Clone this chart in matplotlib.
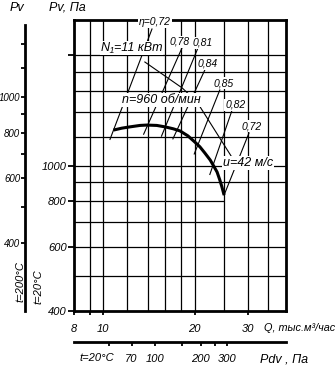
import numpy as np
import matplotlib
matplotlib.use('Agg')
import matplotlib.pyplot as plt
from matplotlib.ticker import NullLocator

plt.rcParams['font.family'] = ['Liberation Sans Narrow', 'Liberation Sans', 'DejaVu Sans']
plt.rcParams['font.style'] = 'italic'

# fan characteristic, n = 960 rpm, t = 20 C  (Q in 1000 m3/h, Pv in Pa)
flow = [10.8, 11.5, 12.2, 13.2, 13.9, 15.0, 16.0, 17.0, 17.9, 19.0,
        20.0, 20.8, 21.6, 22.5, 23.0, 23.7, 24.2, 24.6, 25.0]
pv = [1250, 1265, 1275, 1287, 1290, 1287, 1275, 1260, 1243, 1205,
      1160, 1125, 1082, 1035, 1003, 960, 913, 873, 830]

# efficiency marks on the curve
eta_text = ['η=0,72', '0,78', '0,81', '0,84', '0,85', '0,82', '0,72']
eta_flow = [10.8, 14.0, 16.0, 17.5, 20.5, 23.0, 25.0]
eta_pv = [1250, 1290, 1275, 1252, 1140, 1003, 830]

# grid
q_grid = [9, 10, 12, 14, 16, 18, 20, 25, 30, 35]
p_grid = [500, 600, 700, 900, 1000, 1200, 1400, 1600, 1800, 2000]

# axis ticks
q_ticks = [8, 9, 10, 20, 30]
q_labels = ['8', '', '10', '20', '30']
p_ticks = [400, 600, 800, 1000, 2000]
p_labels = ['400', '600', '800', '1000', '']

# Pv scale at t = 200 C
hot_ticks = [400, 500, 600, 700, 800, 900, 1000, 1200, 1400]
hot_labels = ['400', '', '600', '', '800', '', '1000', '', '']
hot_ratio = 0.65

# dynamic pressure scale, t = 20 C
pdv_ticks = [50, 70, 100, 150, 200, 250, 300]
pdv_labels = ['', '70', '100', '', '200', '', '300']
q_at_pdv100 = 14.8

fig = plt.figure(figsize=(3.36, 3.65), dpi=100)
W, H = 336.0, 365.0
ax = fig.add_axes([74 / W, 1 - 311 / H, 212 / W, 291 / H])
ax.set_xscale('log')
ax.set_yscale('log')
ax.set_xlim(8, 40)
ax.set_ylim(400, 2500)

for q in q_grid:
    ax.axvline(q, color='k', lw=0.9, zorder=1)
for p in p_grid:
    ax.axhline(p, color='k', lw=0.9, zorder=1)
ax.hlines(800, 8, 25, color='k', lw=0.9, zorder=1)

for s in ax.spines.values():
    s.set_linewidth(2.0)

ax.set_xticks(q_ticks, q_labels)
ax.set_yticks(p_ticks, p_labels)
ax.xaxis.set_minor_locator(NullLocator())
ax.yaxis.set_minor_locator(NullLocator())
ax.tick_params(axis='x', direction='out', length=3, width=1.3, pad=6, labelsize=8)
ax.tick_params(axis='y', direction='out', length=4.3, width=1.3, pad=1, labelsize=8)

ax.plot(flow, pv, color='k', lw=2.2, solid_capstyle='butt', zorder=5)

# efficiency leaders: from under the label through the curve point
label_pos = [(14.8, 2470), (17.9, 2177), (21.3, 2163), (22.1, 1895),
             (25.0, 1681), (27.2, 1464), (30.9, 1282)]
leader_top = [(14.46, 2362), (18.16, 2096), (20.5, 2096), (21.6, 1825),
              (24.2, 1609), (26.5, 1409), (30.2, 1227)]
tails = [10, 10, 10, 10, 10, 10, 0]

box = dict(facecolor='white', edgecolor='none', pad=0.6)


def leader(start, hit, tail):
    p0 = ax.transData.transform(start)
    p1 = ax.transData.transform(hit)
    d = (p1 - p0) / np.hypot(*(p1 - p0))
    end = ax.transData.inverted().transform(p1 + d * tail)
    ax.plot([start[0], end[0]], [start[1], end[1]], color='k', lw=0.8, zorder=4)


for i in range(len(eta_text)):
    leader(leader_top[i], (eta_flow[i], eta_pv[i]), tails[i])
    ax.text(label_pos[i][0], label_pos[i][1], eta_text[i], fontsize=7.5,
            ha='center', va='center', bbox=box, zorder=7)

# N1 / n / u leader line
ax.plot([13.7, 18.2, 20.35, 26.4], [1919, 1629, 1492, 1060], color='k', lw=0.8, zorder=4)

ax.text(12.4, 2096, 'N₁=11 кВт', fontsize=9, ha='center', va='center', bbox=box, zorder=7)
ax.text(15.5, 1511, 'n=960 об/мин', fontsize=9, ha='center', va='center', bbox=box, zorder=7)
ax.text(30.0, 1016, 'u=42 м/с', fontsize=9, ha='center', va='center', bbox=box, zorder=7)

# Pv at 200 C, left scale
hot = ax.secondary_yaxis((25 - 74) / 212.0,
                         functions=(lambda p: p * hot_ratio, lambda p: p / hot_ratio))
hot.set_yticks(hot_ticks, hot_labels)
hot.tick_params(which='major', direction='out', length=3, width=1.3, pad=0.5, labelsize=7)
hot.tick_params(which='minor', length=0, labelleft=False)
hot.spines['left'].set_linewidth(2.0)
hot.spines['left'].set_bounds(400 * hot_ratio, 2420 * hot_ratio)

# dynamic pressure scale under the flow axis
pdv = ax.secondary_xaxis((311 - 342) / 291.0,
                         functions=(lambda q: 100 * (np.asarray(q) / q_at_pdv100) ** 2,
                                    lambda p: q_at_pdv100 * np.sqrt(np.clip(p, 1e-9, None) / 100)))
pdv.set_xticks(pdv_ticks, pdv_labels)
pdv.tick_params(which='major', direction='out', length=3, width=1.3, pad=6, labelsize=8)
pdv.tick_params(which='minor', length=0, labelbottom=False)
pdv.spines['bottom'].set_linewidth(2.0)

fig.text(17 / W, 1 - 8 / H, 'Pv', fontsize=9, ha='center', va='center')
fig.text(67 / W, 1 - 8 / H, 'Pv, Па', fontsize=9, ha='center', va='center')
fig.text(264 / W, 1 - 328 / H, 'Q, тыс.м³/час', fontsize=7.8, ha='left', va='center')
fig.text(260 / W, 1 - 360 / H, 'Pdv , Па', fontsize=9, ha='left', va='center')
fig.text(97 / W, 1 - 358 / H, 't=20°C', fontsize=8, ha='center', va='center')
fig.text(20 / W, 1 - 282 / H, 't=200°C', fontsize=8, ha='center', va='center', rotation=90)
fig.text(38 / W, 1 - 287 / H, 't=20°C', fontsize=8, ha='center', va='center', rotation=90)

fig.savefig('out.png', dpi=100)
